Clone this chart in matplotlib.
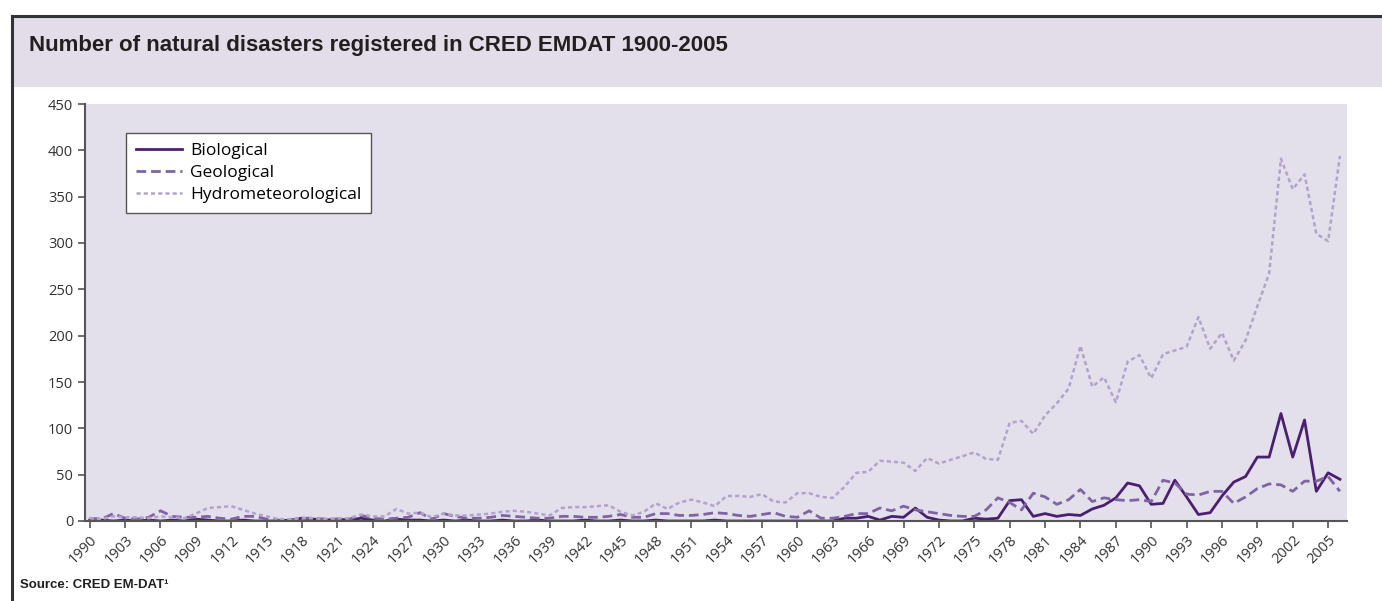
import numpy as np
import matplotlib
matplotlib.use("Agg")
import matplotlib.pyplot as plt
from matplotlib.patches import Rectangle
from matplotlib.lines import Line2D

# data, one value per year 1900-2006
years = list(range(1900, 2007))

biological = [1, 1, 0, 1, 0, 1, 0, 1, 0, 2,
              1, 0, 0, 1, 0, 0, 0, 1, 3, 2,
              1, 2, 1, 3, 1, 0, 2, 1, 1, 0,
              1, 0, 1, 0, 0, 1, 0, 0, 1, 0,
              0, 0, 1, 0, 0, 1, 0, 0, 1, 0,
              0, 0, 0, 1, 0, 0, 0, 0, 0, 0,
              0, 0, 0, 0, 3, 3, 5, 1, 5, 4,
              14, 4, 1, 0, 0, 3, 2, 3, 22, 23,
              5, 8, 5, 7, 6, 13, 17, 25, 41, 38,
              18, 19, 44, 26, 7, 9, 27, 42, 48, 69,
              69, 116, 69, 109, 32, 52, 45]

geological = [3, 2, 8, 3, 2, 4, 11, 5, 4, 4,
              5, 3, 2, 5, 5, 2, 1, 1, 3, 3,
              2, 2, 2, 6, 3, 2, 3, 4, 9, 2,
              8, 5, 3, 3, 4, 6, 5, 4, 3, 3,
              5, 5, 4, 4, 5, 7, 4, 4, 8, 8,
              6, 6, 7, 9, 8, 6, 5, 7, 9, 5,
              4, 11, 3, 3, 5, 8, 8, 14, 11, 16,
              12, 10, 8, 6, 5, 5, 12, 25, 20, 12,
              30, 26, 18, 23, 34, 21, 25, 23, 22, 23,
              21, 44, 41, 29, 28, 32, 32, 19, 26, 35,
              40, 39, 32, 43, 43, 48, 32]

hydrometeorological = [3, 2, 5, 4, 4, 3, 5, 4, 3, 8,
                       14, 15, 16, 12, 8, 5, 2, 2, 3, 3,
                       2, 3, 3, 7, 5, 5, 13, 8, 9, 4,
                       8, 6, 6, 7, 8, 10, 11, 10, 8, 6,
                       14, 15, 15, 16, 17, 10, 6, 10, 19, 13,
                       20, 23, 20, 16, 27, 27, 26, 29, 21, 20,
                       30, 30, 26, 25, 37, 52, 53, 65, 64, 63,
                       54, 68, 62, 66, 70, 74, 67, 66, 106, 108,
                       94, 114, 127, 143, 189, 145, 155, 128, 172, 179,
                       154, 180, 184, 188, 220, 186, 203, 173, 195, 232,
                       267, 391, 358, 374, 310, 302, 394]

tick_years = list(range(1900, 2006, 3))
tick_labels = ["1990"] + [str(y) for y in tick_years[1:]]

W, H = 1382, 601
plt.rcParams['lines.scale_dashes'] = False
fig = plt.figure(figsize=(W / 100, H / 100), dpi=100)

# title band and frame
band_top = 1 - 15.5 / H
band_bot = 1 - 87 / H
fig.add_artist(Rectangle((12 / W, band_bot), 1 - 12 / W, band_top - band_bot,
                         transform=fig.transFigure, facecolor='#e2dde9', edgecolor='none'))
fig.add_artist(Line2D([12 / W, 12 / W], [0, band_top], transform=fig.transFigure,
                      color='#333333', lw=2.2))
fig.add_artist(Line2D([12 / W, 1], [band_top, band_top], transform=fig.transFigure,
                      color='#333333', lw=2.2))
fig.text(29 / W, 1 - 46 / H, "Number of natural disasters registered in CRED EMDAT 1900-2005",
         family=['Liberation Sans', 'DejaVu Sans'], weight='bold',
         fontsize=16, color='#231f20', va='center', ha='left')
fig.text(20 / W, 1 - 585 / H, "Source: CRED EM-DAT\u00b9",
         family=['Liberation Sans', 'DejaVu Sans'], weight='bold',
         fontsize=9.5, color='#231f20', va='center', ha='left')

ax = fig.add_axes([85 / W, 1 - 521 / H, (1347 - 85) / W, (521 - 104) / H])
ax.set_facecolor('#e3e0ec')

ax.plot(years, biological, color='#4a1f72', lw=2.0, label='Biological')
ax.plot(years, geological, color='#7e64a3', lw=2.0, dashes=(7, 3.5), label='Geological')
ax.plot(years, hydrometeorological, color='#b3a3cc', lw=1.8, dashes=(3, 2.2),
        label='Hydrometeorological')

ax.set_xlim(1899.6, 2006.6)
ax.set_ylim(0, 450)
ax.set_yticks(range(0, 451, 50))
ax.set_xticks(tick_years)
ax.set_xticklabels(tick_labels, rotation=45, ha='right', va='top', rotation_mode='anchor')

for s in ['top', 'right']:
    ax.spines[s].set_visible(False)
for s in ['left', 'bottom']:
    ax.spines[s].set_color('#555555')
    ax.spines[s].set_linewidth(1.5)
ax.tick_params(axis='both', colors='#555555', labelcolor='#333333', labelsize=10.5,
               length=5, width=1.2)
for lab in ax.get_xticklabels() + ax.get_yticklabels():
    lab.set_family(['Open Sans', 'DejaVu Sans'])

leg = ax.legend(loc='upper left', bbox_to_anchor=(126 / W, 1 - 133 / H),
                bbox_transform=fig.transFigure, borderaxespad=0, fancybox=False,
                edgecolor='#555555', framealpha=1, handlelength=2.7, handletextpad=0.45,
                labelspacing=0.35, borderpad=0.55,
                prop={'family': ['Open Sans', 'DejaVu Sans'], 'size': 12.5})
leg.get_frame().set_linewidth(1.0)

fig.savefig('out.png', dpi=100)
